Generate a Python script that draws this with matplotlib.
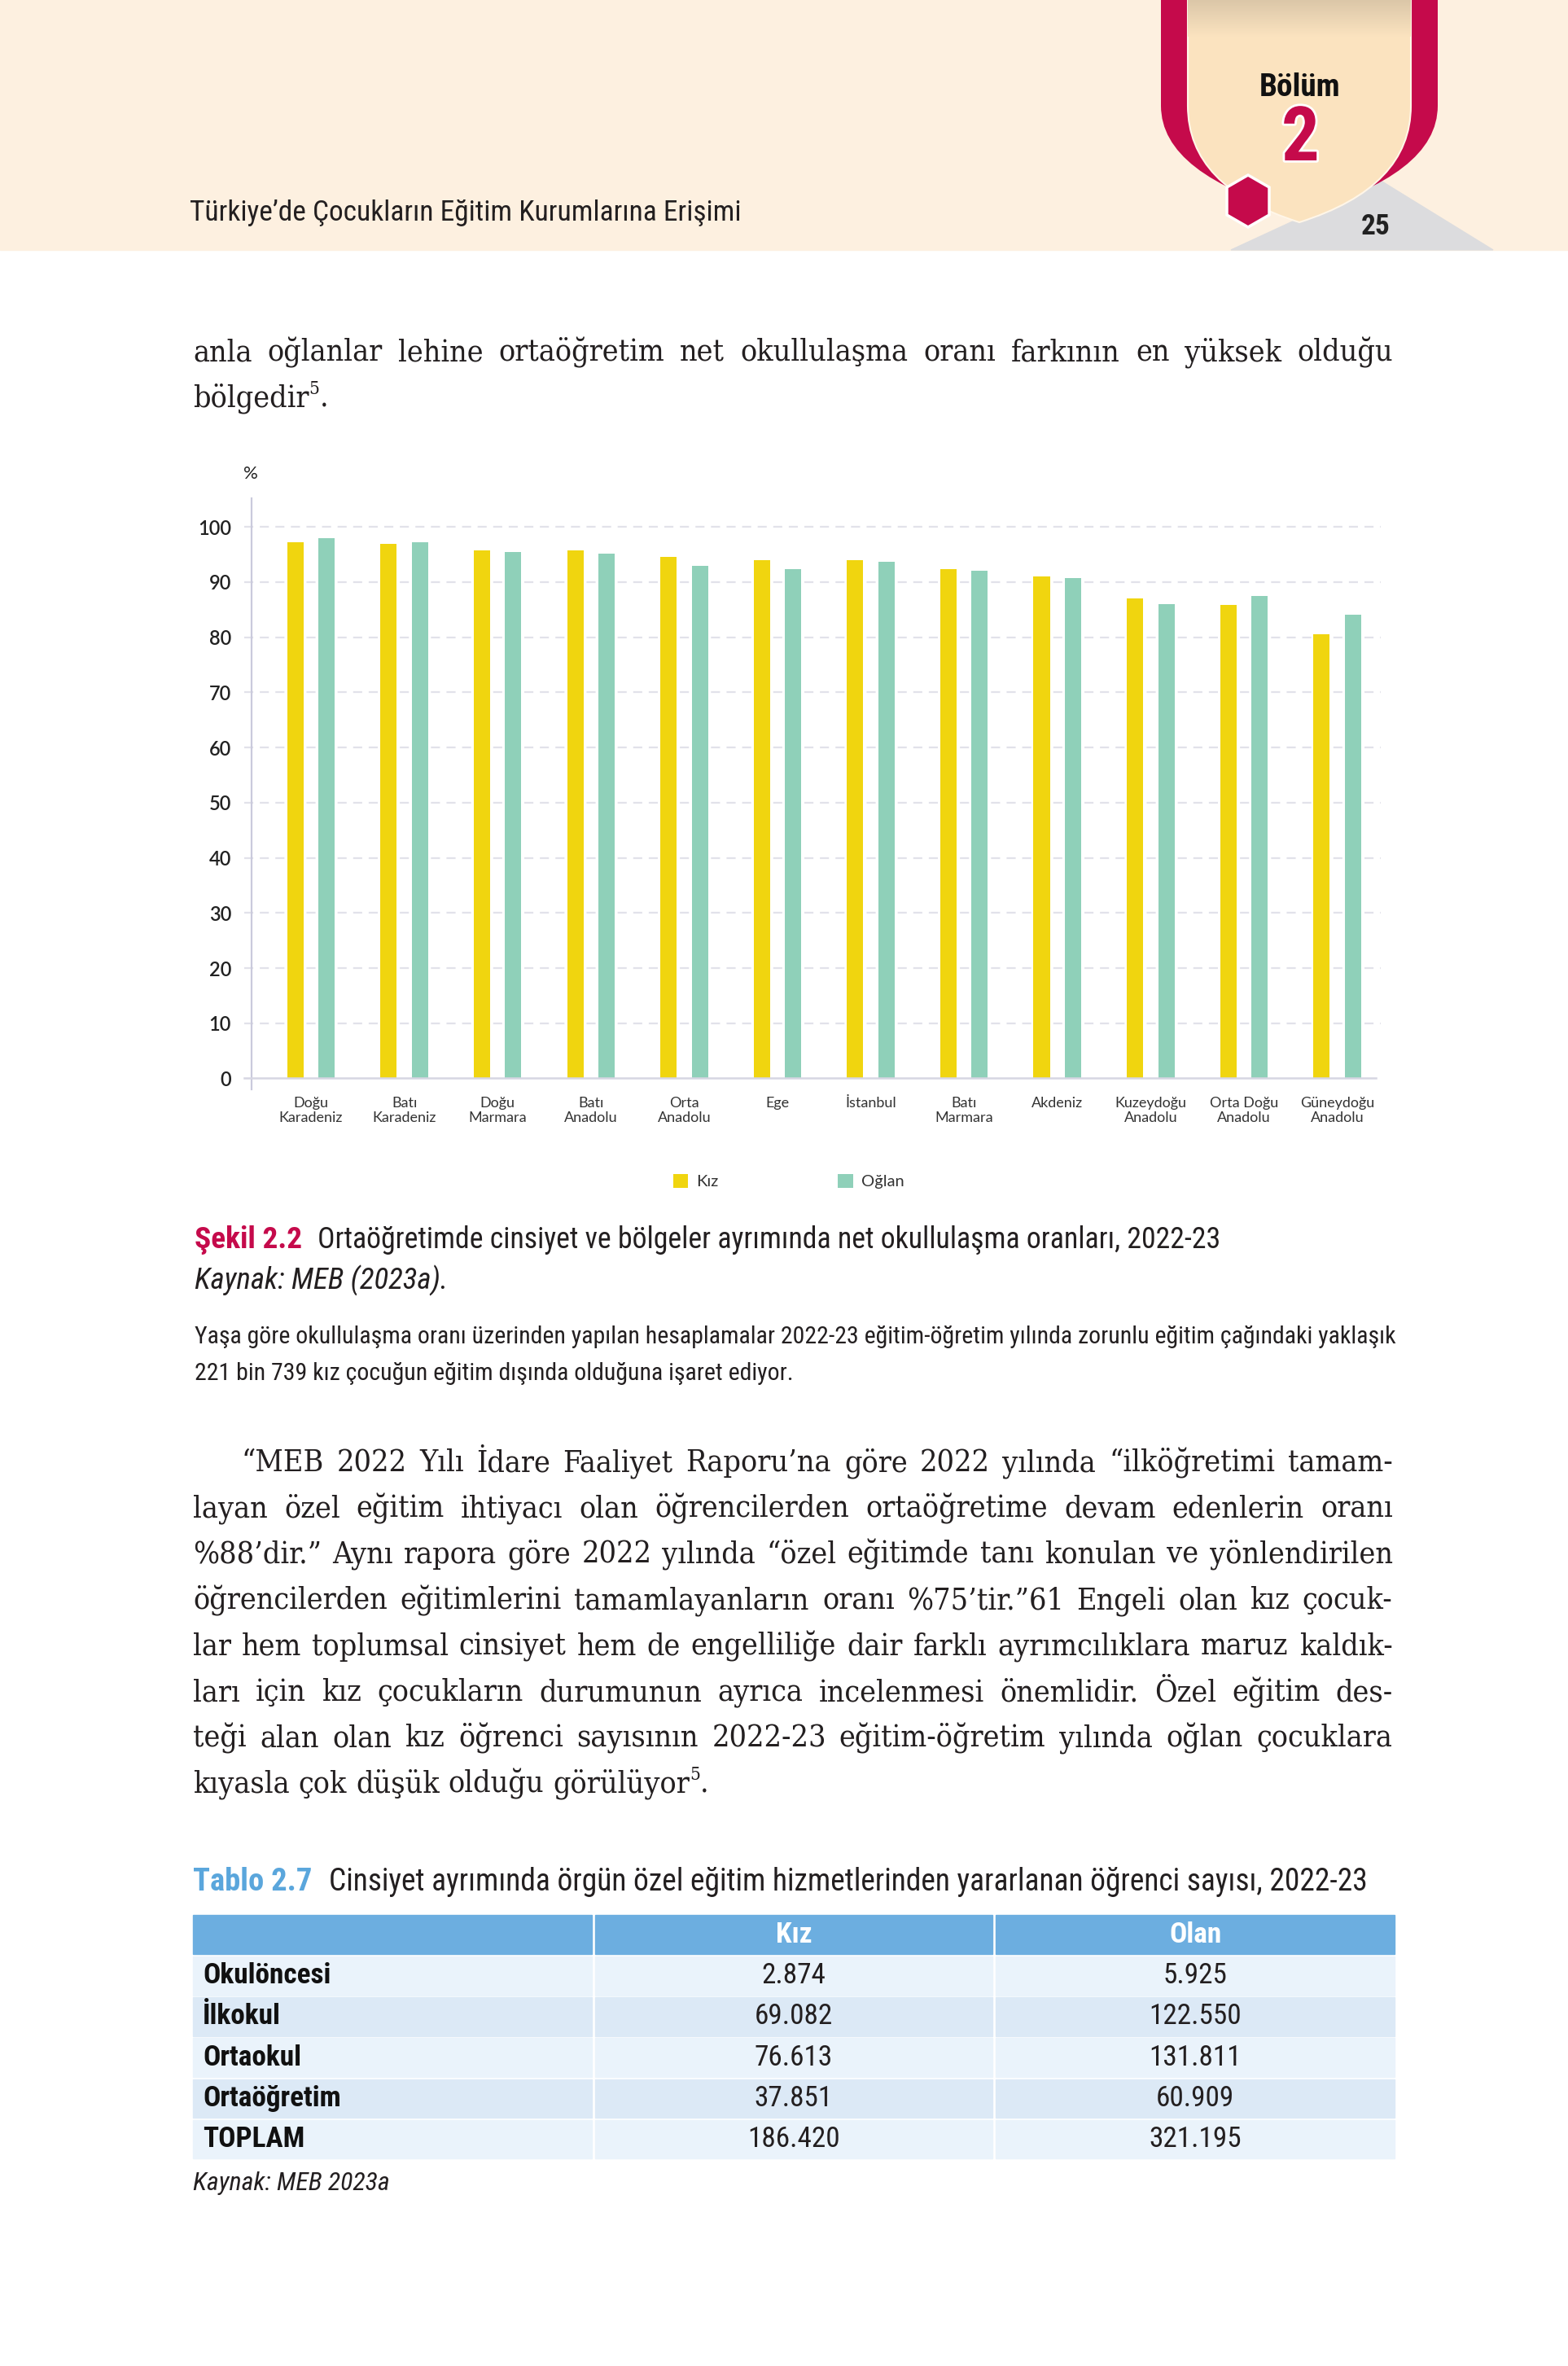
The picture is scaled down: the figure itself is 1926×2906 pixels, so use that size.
import matplotlib
matplotlib.use('Agg')
import matplotlib.pyplot as plt
import numpy as np
from matplotlib import font_manager as fm
from matplotlib.patches import Rectangle, Polygon, PathPatch
from matplotlib.path import Path
import matplotlib.patheffects as pe

# ---------------- data ----------------
regions = ['Doğu\nKaradeniz', 'Batı\nKaradeniz', 'Doğu\nMarmara', 'Batı\nAnadolu',
           'Orta\nAnadolu', 'Ege', 'İstanbul', 'Batı\nMarmara', 'Akdeniz',
           'Kuzeydoğu\nAnadolu', 'Orta Doğu\nAnadolu', 'Güneydoğu\nAnadolu']
kiz = [97.2, 96.9, 95.7, 95.7, 94.5, 94.0, 94.0, 92.3, 91.0, 87.1, 85.9, 80.5]
oglan = [97.9, 97.2, 95.4, 95.2, 93.0, 92.4, 93.7, 92.0, 90.7, 86.0, 87.5, 84.1]
series_labels = ['Kız', 'Oğlan']
yticks = [0, 10, 20, 30, 40, 50, 60, 70, 80, 90, 100]

table_rows = ['Okulöncesi', 'İlkokul', 'Ortaokul', 'Ortaöğretim', 'TOPLAM']
table_cols = ['Kız', 'Olan']
table_kiz = ['2.874', '69.082', '76.613', '37.851', '186.420']
table_olan = ['5.925', '122.550', '131.811', '60.909', '321.195']

para1 = ['anla oğlanlar lehine ortaöğretim net okullulaşma oranı farkının en yüksek olduğu',
         'bölgedir^5.']
para2 = ['“MEB 2022 Yılı İdare Faaliyet Raporu’na göre 2022 yılında “ilköğretimi tamam-',
         'layan özel eğitim ihtiyacı olan öğrencilerden ortaöğretime devam edenlerin oranı',
         '%88’dir.” Aynı rapora göre 2022 yılında “özel eğitimde tanı konulan ve yönlendirilen',
         'öğrencilerden eğitimlerini tamamlayanların oranı %75’tir.”61 Engeli olan kız çocuk-',
         'lar hem toplumsal cinsiyet hem de engelliliğe dair farklı ayrımcılıklara maruz kaldık-',
         'ları için kız çocukların durumunun ayrıca incelenmesi önemlidir. Özel eğitim des-',
         'teği alan olan kız öğrenci sayısının 2022-23 eğitim-öğretim yılında oğlan çocuklara',
         'kıyasla çok düşük olduğu görülüyor^5.']

# ---------------- fonts ----------------
names = {f.name for f in fm.fontManager.ttflist}
def pick(*cands):
    for c in cands:
        if c in names:
            return c
    return 'DejaVu Sans'
COND = pick('Roboto Condensed', 'Liberation Sans Narrow', 'Open Sans Condensed', 'Liberation Sans')
CHART = pick('Lato', 'Open Sans', 'DejaVu Sans')
serif_cond = any(f.name == 'DejaVu Serif' and f.stretch == 'condensed' for f in fm.fontManager.ttflist)
if serif_cond:
    SKW = {'family': 'DejaVu Serif', 'fontstretch': 'condensed'}
    FS0 = 27.0
else:
    SKW = {'family': pick('Liberation Serif', 'DejaVu Serif')}
    FS0 = 29.5

TXT = '#231F20'
CRIMSON = '#C50A4B'

W, H = 1926, 2906
fig = plt.figure(figsize=(W / 100, H / 100), dpi=100)
fig.patch.set_facecolor('white')
bg = fig.add_axes([0, 0, 1, 1], zorder=0)
bg.set_xlim(0, W)
bg.set_ylim(H, 0)
bg.axis('off')
renderer = fig.canvas.get_renderer()


def measure(s, fs, **kw):
    t = bg.text(0, 0, s, fontsize=fs, **kw)
    w = t.get_window_extent(renderer).width
    t.remove()
    return w


def fit_text(x0, x1, y, s, fs=20, ha='left', **kw):
    w = measure(s, fs, **kw)
    nfs = fs * (x1 - x0) / w
    xx = x0 if ha == 'left' else (x0 + x1) / 2
    return bg.text(xx, y, s, fontsize=nfs, ha=ha, va='baseline', **kw), nfs


# ---------------- header band ----------------
bg.add_patch(Rectangle((0, 0), W, 307, color='#FDF0E0', zorder=1))
bg.add_patch(Polygon([(1512, 307), (1696, 222), (1834, 307)], closed=True,
                     color='#DCDCDE', zorder=2))
outer = Path([(1426, -2), (1766, -2), (1766, 130), (1766, 215), (1596, 262),
              (1426, 215), (1426, 130), (1426, -2)],
             [Path.MOVETO, Path.LINETO, Path.LINETO, Path.CURVE3, Path.CURVE3,
              Path.CURVE3, Path.CURVE3, Path.CLOSEPOLY])
bg.add_patch(PathPatch(outer, facecolor=CRIMSON, edgecolor='none', zorder=3))
inner = Path([(1459, -2), (1733, -2), (1733, 130), (1733, 230), (1596, 273),
              (1459, 230), (1459, 130), (1459, -2)],
             [Path.MOVETO, Path.LINETO, Path.LINETO, Path.CURVE3, Path.CURVE3,
              Path.CURVE3, Path.CURVE3, Path.CLOSEPOLY])
inner_patch = PathPatch(inner, facecolor='#FBE3BF', edgecolor='#FFF6E8', lw=1.5, zorder=4)
bg.add_patch(inner_patch)
grad = np.linspace(0, 1, 60).reshape(-1, 1)
c_top = np.array([0.86, 0.78, 0.66])
c_bot = np.array([0.984, 0.89, 0.75])
img = c_top[None, None, :] * (1 - grad[:, :, None]) + c_bot[None, None, :] * grad[:, :, None]
im = bg.imshow(img, extent=[1459, 1733, 45, 0], aspect='auto', zorder=4.5, interpolation='bilinear')
im.set_clip_path(inner_patch)
cx, cy = 1533, 247
hexa = [(cx, cy - 32), (cx + 26, cy - 17), (cx + 26, cy + 17), (cx, cy + 32),
        (cx - 26, cy + 17), (cx - 26, cy - 17)]
bg.add_patch(Polygon(hexa, closed=True, facecolor=CRIMSON, edgecolor='white', lw=2.5, zorder=6))

fit_text(1547, 1647, 118, 'Bölüm', 24, ha='center', family=COND, weight='bold', color='#111111', zorder=7)
t2, _ = fit_text(1574, 1621, 197, '2', 60, ha='center', family=COND, weight='bold', color=CRIMSON, zorder=7)
t2.set_path_effects([pe.withStroke(linewidth=4, foreground='white')])
fit_text(1672, 1708, 288, '25', 26, ha='center', family=COND, weight='bold', color='#222222', zorder=7)
fit_text(233, 910, 271, 'Türkiye’de Çocukların Eğitim Kurumlarına Erişimi', 26,
         family=COND, color=TXT, zorder=7)

# ---------------- justified paragraphs ----------------
REF = 20.0
_cache = {}


def runs(word):
    if '^' in word:
        a, rest = word.split('^', 1)
        return [(a, 1.0, 0.0), (rest[0], 0.6, 0.42), (rest[1:], 1.0, 0.0)]
    return [(word, 1.0, 0.0)]


def wwidth(word, fs):
    if word not in _cache:
        _cache[word] = sum(measure(s, REF * sc, **SKW) for s, sc, r in runs(word) if s)
    return _cache[word] * fs / REF


space_ref = measure('a a', REF, **SKW) - measure('aa', REF, **SKW)


def layout(lines, x0, x1, fs, indent=0):
    out = []
    mingap = 1e9
    for i, line in enumerate(lines):
        words = line.split(' ')
        ws = [wwidth(w, fs) for w in words]
        start = x0 + (indent if i == 0 else 0)
        last = i == len(lines) - 1
        if last or len(words) == 1:
            gap = space_ref * fs / REF
        else:
            gap = (x1 - start - sum(ws)) / (len(words) - 1)
            mingap = min(mingap, gap)
        out.append((words, ws, start, gap))
    return out, mingap


def draw_layout(lay, y0, dy, fs):
    for i, (words, ws, start, gap) in enumerate(lay):
        x = start
        y = y0 + i * dy
        for w, wd in zip(words, ws):
            xx = x
            for s, sc, rise in runs(w):
                if not s:
                    continue
                bg.text(xx, y - rise * fs * 100 / 72, s, fontsize=fs * sc,
                        ha='left', va='baseline', color=TXT, zorder=7, **SKW)
                xx += measure(s, REF * sc, **SKW) * fs / REF
            x += wd + gap


fs = FS0
while True:
    l1, g1 = layout(para1, 237, 1711, fs)
    l2, g2 = layout(para2, 237, 1711, fs, indent=60)
    if min(g1, g2) >= 0.16 * fs * 100 / 72 or fs < 18:
        break
    fs -= 0.25
draw_layout(l1, 443, 56.4, fs)
draw_layout(l2, 1807, 56.4, fs)

# ---------------- chart ----------------
AX_L, AX_R, AX_B, AX_T = 309, 1690, 1324.5, 612
ax = fig.add_axes([AX_L / W, 1 - AX_B / H, (AX_R - AX_L) / W, (AX_B - AX_T) / H], zorder=5)
ax.patch.set_alpha(0)
x = np.arange(len(regions))
bw, off = 0.175, 0.168
b1 = ax.bar(x - off, kiz, bw, color='#F0D50F', zorder=3)
b2 = ax.bar(x + off, oglan, bw, color='#8FD0B9', zorder=3)
ax.set_xlim(-0.637, 11.414)
ax.set_ylim(0, 105.2)
axw = AX_R - AX_L
for v in yticks[1:]:
    ax.axhline(v, xmin=-9 / axw, xmax=(1696 - AX_L) / axw, color='#E2E2EA', lw=1.6,
               ls=(0, (5, 3.6)), clip_on=False, zorder=1)
ax.axhline(0, xmin=-9 / axw, xmax=1, color='#D6D6E2', lw=1.8, clip_on=False, zorder=4)
for s in ['top', 'right', 'bottom']:
    ax.spines[s].set_visible(False)
ax.spines['left'].set_color('#CACADC')
ax.spines['left'].set_linewidth(1.6)
ax.spines['left'].set_bounds(-2, 105.2)
ax.set_yticks(yticks)
ax.set_yticklabels([str(v) for v in yticks], fontsize=17, fontfamily=CHART,
                   fontweight='semibold', color='#222222')
ax.tick_params(axis='y', length=0, pad=18)
ax.set_xticks(x)
ax.set_xticklabels(regions, fontsize=13, fontfamily=CHART, color='#333333', linespacing=1.2)
ax.tick_params(axis='x', length=0, pad=16)
bg.text(308, 582, '%', ha='center', va='center', fontsize=16, family=CHART, color='#222222', zorder=7)
ax.legend([b1, b2], series_labels, loc='center left', bbox_to_anchor=(827 / W, 1 - 1451 / H),
          bbox_transform=fig.transFigure, ncol=2, frameon=False, handlelength=0.9,
          handleheight=0.9, handletextpad=0.5, columnspacing=7.3, borderpad=0,
          borderaxespad=0, prop={'family': CHART, 'size': 14.5}, labelcolor='#333333')

# ---------------- captions ----------------
fit_text(239, 371, 1533, 'Şekil 2.2', 21, family=COND, weight='bold', color=CRIMSON, zorder=7)
fit_text(390, 1497, 1533, 'Ortaöğretimde cinsiyet ve bölgeler ayrımında net okullulaşma oranları, 2022-23',
         21, family=COND, color=TXT, zorder=7)
fit_text(239, 550, 1583, 'Kaynak: MEB (2023a).', 21, family=COND, style='italic', color=TXT, zorder=7)
_, nfs = fit_text(239, 1718, 1650, 'Yaşa göre okullulaşma oranı üzerinden yapılan hesaplamalar 2022-23 '
                  'eğitim-öğretim yılında zorunlu eğitim çağındaki yaklaşık', 17, family=COND, color=TXT, zorder=7)
bg.text(239, 1695, '221 bin 739 kız çocuğun eğitim dışında olduğuna işaret ediyor.', fontsize=nfs,
        family=COND, color=TXT, ha='left', va='baseline', zorder=7)

# ---------------- table ----------------
fit_text(237, 383, 2322, 'Tablo 2.7', 22, family=COND, weight='bold', color='#5AA6DC', zorder=7)
fit_text(404, 1684, 2322, 'Cinsiyet ayrımında örgün özel eğitim hizmetlerinden yararlanan öğrenci sayısı, 2022-23',
         22, family=COND, color=TXT, zorder=7)

col_x = [(237, 727), (731, 1219), (1223, 1713)]
hdr_top, hdr_h, row_h, pitch = 2352, 48, 47.5, 50.2
for (a, b) in col_x:
    bg.add_patch(Rectangle((a, hdr_top), b - a, hdr_h, color='#6CAEE0', zorder=2))
tfs = 24 * 158 / measure('Okulöncesi', 24, family=COND, weight='bold')
for j, name in enumerate(table_cols):
    a, b = col_x[j + 1]
    bg.text((a + b) / 2, hdr_top + hdr_h / 2, name, fontsize=tfs, family=COND, weight='bold',
            color='white', ha='center', va='center', zorder=7)
for i, (rname, k, o) in enumerate(zip(table_rows, table_kiz, table_olan)):
    top = hdr_top + hdr_h + 3 + i * pitch
    colr = '#EAF3FB' if i % 2 == 0 else '#DCE9F6'
    for (a, b) in col_x:
        bg.add_patch(Rectangle((a, top), b - a, row_h, color=colr, zorder=2))
    yc = top + row_h / 2
    bg.text(249, yc, rname, fontsize=tfs, family=COND, weight='bold', color='#111111',
            ha='left', va='center', zorder=7)
    for j, val in enumerate([k, o]):
        a, b = col_x[j + 1]
        bg.text((a + b) / 2, yc, val, fontsize=tfs, family=COND, color=TXT,
                ha='center', va='center', zorder=7)
fit_text(237, 478, 2690, 'Kaynak: MEB 2023a', 20, family=COND, style='italic', color=TXT, zorder=7)

fig.savefig('out.png', dpi=100)
